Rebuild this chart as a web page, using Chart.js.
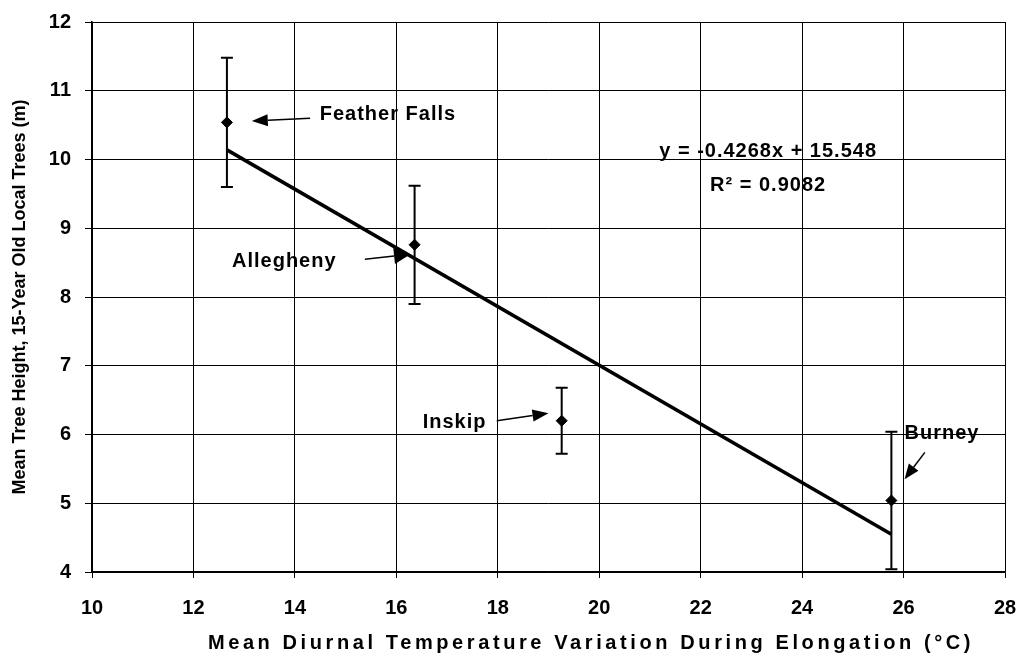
<!DOCTYPE html>
<html>
<head>
<meta charset="utf-8">
<script src="https://cdn.jsdelivr.net/npm/chart.js@4"></script>
<style>
  html, body { margin: 0; padding: 0; background: #fff; }
  #wrap { width: 1016px; height: 655px; }
</style>
</head>
<body>
<div id="wrap"><canvas id="myChart" width="1016" height="655"></canvas></div>
<script>
// site data
const sites = ['Feather Falls', 'Allegheny', 'Inskip', 'Burney'];
const tempVar = [12.66, 16.36, 19.26, 25.76];
const meanHeight = [10.54, 8.76, 6.20, 5.04];
const errLow = [9.60, 7.90, 5.72, 4.04];
const errHigh = [11.48, 9.62, 6.68, 6.04];

// fitted line end points (as drawn)
const trendX = [12.66, 25.76];
const trendY = [10.14, 4.55];

const xTicks = [10, 12, 14, 16, 18, 20, 22, 24, 26, 28];
const yTicks = [4, 5, 6, 7, 8, 9, 10, 11, 12];

const xTitle = 'Mean Diurnal Temperature Variation During Elongation (°C)';
const yTitle = 'Mean Tree Height, 15-Year Old Local Trees (m)';

const FONT = '"Liberation Sans", Arial, sans-serif';

// label + arrow for each site, in data units
const callouts = [
    { text: sites[0], tx: 14.49, ty: 10.65, from: [14.30, 10.60], to: [13.15, 10.56], hl: 16, hw: 6 },
    { text: sites[1], tx: 12.76, ty: 8.51, from: [15.38, 8.55], to: [16.27, 8.62], hl: 16, hw: 8 },
    { text: sites[2], tx: 16.52, ty: 6.18, from: [17.98, 6.20], to: [19.0, 6.31], hl: 16, hw: 6 },
    { text: sites[3], tx: 26.02, ty: 6.02, from: [26.42, 5.74], to: [26.02, 5.35], hl: 15, hw: 6 }
];

const errorBars = {
    id: 'errorBars',
    afterDatasetsDraw(chart) {
        const { ctx, scales: { x, y } } = chart;
        ctx.save();
        ctx.strokeStyle = '#000';
        ctx.lineWidth = 2;
        tempVar.forEach((t, i) => {
            const px = x.getPixelForValue(t);
            const top = y.getPixelForValue(errHigh[i]);
            const bot = y.getPixelForValue(errLow[i]);
            ctx.beginPath();
            ctx.moveTo(px, top); ctx.lineTo(px, bot);
            ctx.moveTo(px - 6, top); ctx.lineTo(px + 6, top);
            ctx.moveTo(px - 6, bot); ctx.lineTo(px + 6, bot);
            ctx.stroke();
        });
        ctx.restore();
    }
};

const labelsPlugin = {
    id: 'callouts',
    afterDraw(chart) {
        const { ctx, scales: { x, y } } = chart;
        ctx.save();
        ctx.fillStyle = '#000';
        ctx.strokeStyle = '#000';
        ctx.font = 'bold 20px ' + FONT;
        ctx.letterSpacing = '1px';
        ctx.textBaseline = 'middle';
        ctx.textAlign = 'left';
        callouts.forEach(c => {
            ctx.fillText(c.text, x.getPixelForValue(c.tx), y.getPixelForValue(c.ty));
            const x1 = x.getPixelForValue(c.from[0]), y1 = y.getPixelForValue(c.from[1]);
            const x2 = x.getPixelForValue(c.to[0]), y2 = y.getPixelForValue(c.to[1]);
            const ang = Math.atan2(y2 - y1, x2 - x1);
            const hl = c.hl, hw = c.hw;
            ctx.lineWidth = 1.5;
            ctx.beginPath();
            ctx.moveTo(x1, y1);
            ctx.lineTo(x2 - hl * Math.cos(ang), y2 - hl * Math.sin(ang));
            ctx.stroke();
            ctx.beginPath();
            ctx.moveTo(x2, y2);
            ctx.lineTo(x2 - hl * Math.cos(ang) + hw * Math.sin(ang), y2 - hl * Math.sin(ang) - hw * Math.cos(ang));
            ctx.lineTo(x2 - hl * Math.cos(ang) - hw * Math.sin(ang), y2 - hl * Math.sin(ang) + hw * Math.cos(ang));
            ctx.closePath();
            ctx.fill();
        });
        // regression equation
        ctx.textAlign = 'center';
        ctx.fillText('y = -0.4268x + 15.548', x.getPixelForValue(23.33), y.getPixelForValue(10.12));
        ctx.fillText('R² = 0.9082', x.getPixelForValue(23.33), y.getPixelForValue(9.62));

        // axis titles
        ctx.font = 'bold 20px ' + FONT;
        ctx.letterSpacing = '3.6px';
        ctx.fillText(xTitle, 591, 643);
        ctx.font = 'bold 18px ' + FONT;
        ctx.letterSpacing = '0px';
        ctx.translate(20, 297);
        ctx.rotate(-Math.PI / 2);
        ctx.fillText(yTitle, 0, 0);
        ctx.restore();
    }
};

const ctx = document.getElementById('myChart').getContext('2d');
const myChart = new Chart(ctx, {
    type: 'scatter',
    data: {
        datasets: [
            {
                label: 'Fit',
                type: 'line',
                data: trendX.map((v, i) => ({ x: v, y: trendY[i] })),
                borderColor: '#000',
                borderWidth: 3.5,
                pointRadius: 0,
                fill: false
            },
            {
                label: 'Sites',
                data: tempVar.map((v, i) => ({ x: v, y: meanHeight[i] })),
                pointStyle: 'rectRot',
                pointRadius: 5.5,
                backgroundColor: '#000',
                borderColor: '#000'
            }
        ]
    },
    options: {
        responsive: false,
        animation: false,
        layout: { padding: { top: 22, right: 11, left: 0, bottom: 0 } },
        plugins: {
            legend: { display: false },
            tooltip: { enabled: false }
        },
        scales: {
            x: {
                type: 'linear',
                min: 10, max: 28,
                afterBuildTicks: s => { s.ticks = xTicks.map(v => ({ value: v })); },
                afterFit: s => { s.height = 83; s.paddingLeft = 0; s.paddingRight = 0; },
                grid: { color: '#000', lineWidth: 1, tickLength: 6 },
                border: { color: '#000', width: 1.5 },
                ticks: { color: '#000', padding: 18, font: { family: FONT, size: 20, weight: 'bold' } },
                title: { display: false }
            },
            y: {
                type: 'linear',
                min: 4, max: 12,
                afterBuildTicks: s => { s.ticks = yTicks.map(v => ({ value: v })); },
                afterFit: s => { s.width = 92; s.paddingTop = 0; s.paddingBottom = 0; },
                grid: { color: '#000', lineWidth: 1, tickLength: 7 },
                border: { color: '#000', width: 1.5 },
                ticks: { color: '#000', padding: 14, font: { family: FONT, size: 20, weight: 'bold' } },
                title: { display: false }
            }
        }
    },
    plugins: [errorBars, labelsPlugin]
});
</script>
</body>
</html>
